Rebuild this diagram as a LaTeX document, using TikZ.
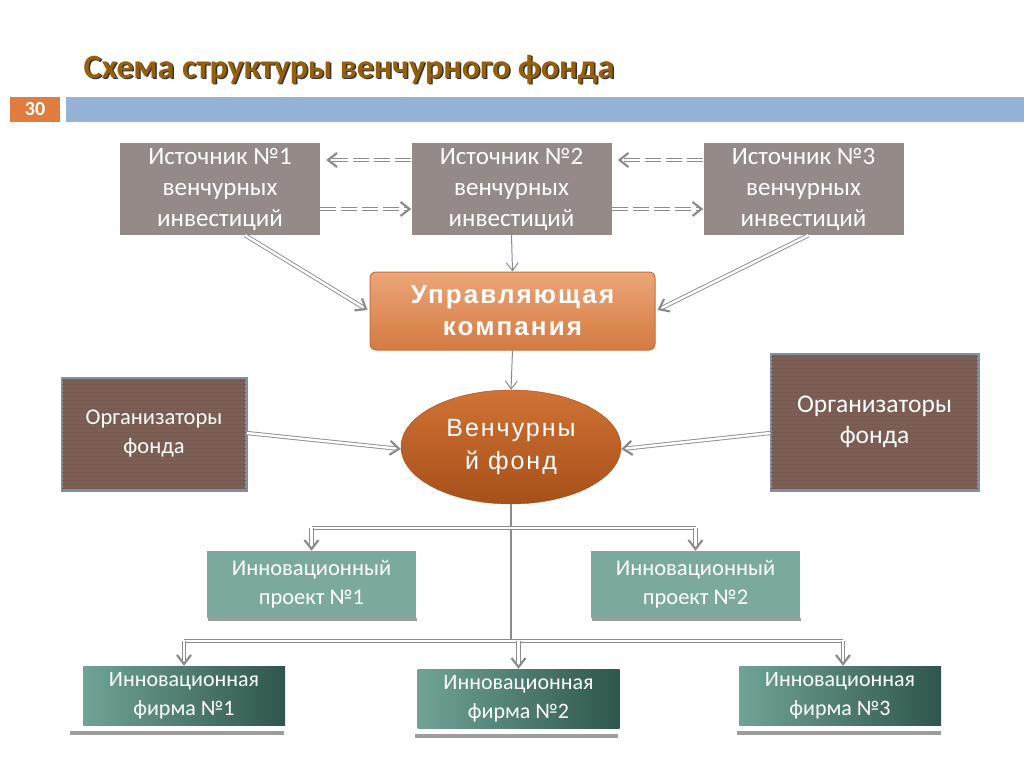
\documentclass[tikz,border=0pt]{standalone}
\usepackage{fontspec}
\setmainfont{Carlito}
\newfontfamily\headfont{Liberation Sans}[LetterSpace=8]
\usetikzlibrary{arrows.meta,calc,shapes.geometric}
\definecolor{srcgray}{RGB}{148,138,136}
\definecolor{titlebrown}{RGB}{150,95,10}
\definecolor{numorange}{RGB}{224,124,62}
\definecolor{barblue}{RGB}{149,179,215}
\definecolor{lngray}{RGB}{140,140,140}
\definecolor{orgbrown}{RGB}{124,94,84}
\definecolor{orgstripe}{RGB}{118,90,80}
\definecolor{orgborder}{RGB}{128,145,165}
\definecolor{projteal}{RGB}{123,169,157}
\definecolor{firmlight}{RGB}{112,163,150}
\definecolor{firmdark}{RGB}{47,86,76}
\definecolor{uktop}{RGB}{236,166,120}
\definecolor{ukbot}{RGB}{212,122,66}
\definecolor{ukborder}{RGB}{196,112,60}
\definecolor{vftop}{RGB}{208,114,52}
\definecolor{vfbot}{RGB}{166,80,26}
\tikzset{
  srcbox/.style={fill=srcgray, text=white, minimum width=200pt, minimum height=92pt, inner sep=0pt, align=center, font=\fontsize{25}{31}\selectfont},
  orgbox/.style={fill=orgbrown, draw=orgborder, line width=1.5pt, text=white, inner sep=0pt, align=center},
  projbox/.style={fill=projteal, text=white, minimum width=209pt, minimum height=67pt, inner sep=0pt, align=center, font=\fontsize{22.5}{29}\selectfont},
  firmbox/.style={left color=firmlight, right color=firmdark, text=white, minimum width=202pt, minimum height=59pt, inner sep=0pt, align=center, font=\fontsize{22}{29}\selectfont},
  dbl/.style={draw=lngray, double=white, double distance=2.4pt, line width=0.9pt},
  dblarrow/.style={dbl, -{Straight Barb[length=9pt, width=14pt, line width=2.2pt]}},
  dsh/.style={dash pattern=on 16pt off 5pt},
  barb/.style={lngray, line width=1pt, -{Straight Barb[length=8pt,width=12pt]}},
  shadowbar/.style={fill=lngray!85},
}
\begin{document}
\begin{tikzpicture}[x=1pt,y=-1pt]
\useasboundingbox (0,0) rectangle (1024,768);
\fill[white] (0,0) rectangle (1024,768);
% title
\node[anchor=base west, text=black!80, font=\fontsize{34}{40}\selectfont\bfseries] at (81.5,79.5) {Схема структуры венчурного фонда};
\node[anchor=base west, text=titlebrown, font=\fontsize{34}{40}\selectfont\bfseries] (title) at (80,78) {Схема структуры венчурного фонда};
% header bar
\node[fill=numorange, minimum width=50pt, minimum height=25pt, inner sep=0pt, text=white, font=\fontsize{20}{22}\selectfont\bfseries] (num) at (35,109.5) {30};
\node[fill=barblue, minimum width=958pt, minimum height=25pt, inner sep=0pt, anchor=west] (bar) at (66,109.5) {};
% sources
\node[srcbox] (s1) at (220,189) {Источник №1\\венчурных\\инвестиций};
\node[srcbox] (s2) at (511.5,189) {Источник №2\\венчурных\\инвестиций};
\node[srcbox] (s3) at (803.5,189) {Источник №3\\венчурных\\инвестиций};
% management company
\node[rounded corners=6pt, top color=uktop, bottom color=ukbot, draw=ukborder, line width=1pt, minimum width=285pt, minimum height=78pt, inner sep=0pt, align=center, text=white, font=\headfont\fontsize{26}{32}\selectfont\bfseries] (uk) at (512.5,311) {Управляющая\\компания};
% venture fund
\node[ellipse, top color=vftop, bottom color=vfbot, draw=vfbot, minimum width=220pt, minimum height=114pt, inner sep=0pt, align=center, text=white, font=\headfont\fontsize{25}{33}\selectfont] (vf) at (511,447) {Венчурны\\й фонд};
% organizers
\node[orgbox, minimum width=184pt, minimum height=112pt] (o1) at (154,434) {};
\node[orgbox, minimum width=207pt, minimum height=136pt] (o2) at (874.5,422) {};
\begin{scope}
\clip (o1.south west) rectangle (o1.north east);
\foreach \yy in {380,384,...,490} \draw[orgstripe, line width=1pt] (60,\yy) -- (250,\yy);
\end{scope}
\begin{scope}
\clip (o2.south west) rectangle (o2.north east);
\foreach \yy in {356,360,...,490} \draw[orgstripe, line width=1pt] (770,\yy) -- (980,\yy);
\end{scope}
\draw[orgborder, line width=1.5pt] (o1.south west) rectangle (o1.north east);
\draw[orgborder, line width=1.5pt] (o2.south west) rectangle (o2.north east);
\node[text=white, align=center, font=\fontsize{22.5}{29}\selectfont] at (o1) {Организаторы\\фонда};
\node[text=white, align=center, font=\fontsize{25.5}{31}\selectfont] at (o2) {Организаторы\\фонда};
% projects
\fill[shadowbar] (208,618) rectangle (417,621);
\fill[shadowbar] (592,618) rectangle (801,621);
\node[projbox] (p1) at (311.5,584.5) {Инновационный\\проект №1};
\node[projbox] (p2) at (695.5,584.5) {Инновационный\\проект №2};
% firms
\fill[shadowbar] (70,731) rectangle (284,735);
\fill[shadowbar] (415,734) rectangle (618,738);
\fill[shadowbar] (737,731) rectangle (941,735);
\node[firmbox] (f1) at (184,695.5) {Инновационная\\фирма №1};
\node[firmbox] (f2) at (518.5,698.5) {Инновационная\\фирма №2};
\node[firmbox] (f3) at (840,695.5) {Инновационная\\фирма №3};
% dashed arrows between sources
\draw[dblarrow, dsh] ([yshift=29pt]s2.west) -- ([yshift=29pt,xshift=6pt]s1.east);
\draw[dblarrow, dsh] ([yshift=-20pt]s1.east) -- ([yshift=-20pt]s2.west);
\draw[dblarrow, dsh] ([yshift=29pt]s3.west) -- ([yshift=29pt,xshift=6pt]s2.east);
\draw[dblarrow, dsh] ([yshift=-20pt]s2.east) -- ([yshift=-20pt]s3.west);
% to management company
\draw[dblarrow] ([xshift=25pt]s1.south) -- ([xshift=-2pt,yshift=1pt]uk.west);
\draw[barb] (s2.south) -- (uk.north);
\draw[dblarrow] ([xshift=5pt]s3.south) -- ([xshift=2pt,yshift=1pt]uk.east);
% to venture fund
\draw[barb] (uk.south) -- (vf.north);
\draw[dblarrow] ([yshift=1pt]o1.east) -- ([yshift=-2pt]vf.west);
\draw[dblarrow] ([yshift=-11pt]o2.west) -- ([yshift=-2pt]vf.east);
% tree
\coordinate (t1) at (511,528);
\coordinate (t2) at (511,641);
\draw[lngray, line width=1.2pt] (vf.south) -- (t2);
\draw[dbl] (p1.north |- t1) -- (p2.north |- t1);
\draw[dblarrow] (p1.north |- t1) -- (p1.north);
\draw[dblarrow] (p2.north |- t1) -- (p2.north);
\draw[dbl] (f1.north |- t2) -- ([xshift=3pt]f3.north |- t2);
\draw[dblarrow] (f1.north |- t2) -- (f1.north);
\draw[dblarrow] (f2.north |- t2) -- (f2.north);
\draw[dblarrow] ([xshift=3pt]f3.north |- t2) -- ([xshift=3pt]f3.north);
\end{tikzpicture}
\end{document}
